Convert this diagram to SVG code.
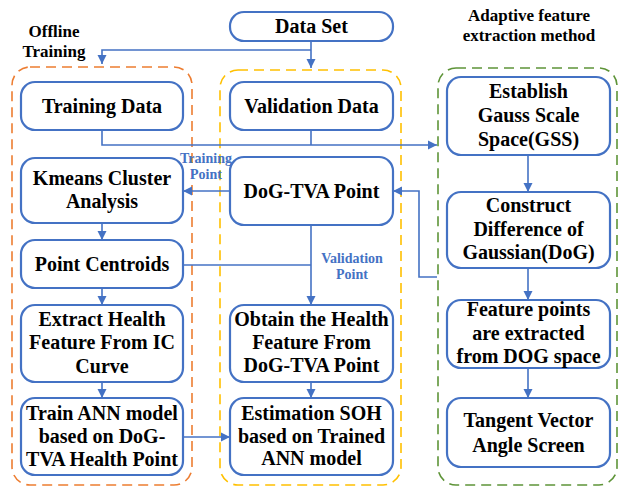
<svg xmlns="http://www.w3.org/2000/svg" width="618" height="487" viewBox="0 0 618 487">
<defs>
<style>
.box{fill:#fff;stroke:#4472C4;stroke-width:2.2}
.grp{fill:none;stroke-width:1.6;stroke-dasharray:10 6}
.t{font-family:"Liberation Serif","Times New Roman",serif;font-weight:bold;font-size:20px;fill:#000;text-anchor:middle}
.h{font-family:"Liberation Serif","Times New Roman",serif;font-weight:bold;font-size:17px;fill:#000;text-anchor:middle}
.l{font-family:"Liberation Serif","Times New Roman",serif;font-weight:bold;font-size:14px;fill:#4472C4;text-anchor:middle}
.c{fill:none;stroke:#4472C4;stroke-width:1.6}
</style>
<marker id="arr" markerUnits="userSpaceOnUse" markerWidth="10" markerHeight="10" refX="9" refY="5" orient="auto">
<path d="M0,0.5 L9,5 L0,9.5 z" fill="#4472C4"/>
</marker>
</defs>
<rect width="618" height="487" fill="#fff"/>

<g id="groups">
<rect class="grp" x="12" y="67" width="180" height="418" rx="18" stroke="#ED7D31"/>
<rect class="grp" x="220" y="70" width="181" height="415" rx="18" stroke="#FFC000"/>
<rect class="grp" x="438" y="68" width="179" height="417" rx="18" stroke="#5E9438"/>
</g>

<g id="titles">
<text class="h" x="54" y="37">Offline</text>
<text class="h" x="54" y="57">Training</text>
<text class="h" x="529" y="21">Adaptive feature</text>
<text class="h" x="529" y="41">extraction method</text>
</g>

<g id="connectors">
<path class="c" d="M311 41 V68" marker-end="url(#arr)"/>
<path class="c" d="M311 50 H102 V64" marker-end="url(#arr)"/>
<path class="c" d="M311 130 V145"/>
<path class="c" d="M102 130 V145 H437" marker-end="url(#arr)"/>
<path class="c" d="M528 155 V192" marker-end="url(#arr)"/>
<path class="c" d="M528 268 V300" marker-end="url(#arr)"/>
<path class="c" d="M528 368 V398" marker-end="url(#arr)"/>
<path class="c" d="M437 277 H419 V191 H393" marker-end="url(#arr)"/>
<path class="c" d="M230 191 H183" marker-end="url(#arr)"/>
<path class="c" d="M102 223 V240" marker-end="url(#arr)"/>
<path class="c" d="M102 288 V305" marker-end="url(#arr)"/>
<path class="c" d="M102 382 V398" marker-end="url(#arr)"/>
<path class="c" d="M183 265 H311"/>
<path class="c" d="M311 225 V305" marker-end="url(#arr)"/>
<path class="c" d="M311 382 V398" marker-end="url(#arr)"/>
<path class="c" d="M183 437 H230" marker-end="url(#arr)"/>
<text class="l" x="206" y="163">Training</text>
<text class="l" x="206" y="179">Point</text>
<text class="l" x="352" y="263">Validation</text>
<text class="l" x="352" y="279">Point</text>
</g>

<g id="data-set"><rect class="box" x="230" y="12" width="163" height="29" rx="14"/><text class="t" x="311.5" y="33">Data Set</text></g>
<g id="training-data"><rect class="box" x="21" y="82" width="162" height="48" rx="14"/><text class="t" x="102" y="113">Training Data</text></g>
<g id="validation-data"><rect class="box" x="230" y="82" width="163" height="48" rx="14"/><text class="t" x="311.5" y="113">Validation Data</text></g>
<g id="kmeans"><rect class="box" x="21" y="158" width="162" height="65" rx="14"/><text class="t" x="102" y="185">Kmeans Cluster</text><text class="t" x="102" y="208">Analysis</text></g>
<g id="point-centroids"><rect class="box" x="21" y="240" width="162" height="48" rx="14"/><text class="t" x="102" y="271">Point Centroids</text></g>
<g id="extract"><rect class="box" x="21" y="305" width="162" height="77" rx="14"/><text class="t" x="102" y="326">Extract Health</text><text class="t" x="102" y="349">Feature From IC</text><text class="t" x="102" y="373">Curve</text></g>
<g id="train-ann"><rect class="box" x="21" y="398" width="162" height="77" rx="14"/><text class="t" x="102" y="420">Train ANN model</text><text class="t" x="102" y="443">based on DoG-</text><text class="t" x="102" y="466">TVA Health Point</text></g>
<g id="dog-tva"><rect class="box" x="230" y="157" width="163" height="68" rx="14"/><text class="t" x="311.5" y="198">DoG-TVA Point</text></g>
<g id="obtain"><rect class="box" x="230" y="305" width="163" height="77" rx="14"/><text class="t" x="311.5" y="326">Obtain the Health</text><text class="t" x="311.5" y="349">Feature From</text><text class="t" x="311.5" y="372">DoG-TVA Point</text></g>
<g id="estimation"><rect class="box" x="230" y="398" width="163" height="77" rx="14"/><text class="t" x="311.5" y="420">Estimation SOH</text><text class="t" x="311.5" y="443">based on Trained</text><text class="t" x="311.5" y="465">ANN model</text></g>
<g id="gss"><rect class="box" x="447" y="77" width="163" height="78" rx="14"/><text class="t" x="528.5" y="98">Establish</text><text class="t" x="528.5" y="122">Gauss Scale</text><text class="t" x="528.5" y="146">Space(GSS)</text></g>
<g id="construct"><rect class="box" x="447" y="192" width="163" height="76" rx="14"/><text class="t" x="528.5" y="212">Construct</text><text class="t" x="528.5" y="236">Difference of</text><text class="t" x="528.5" y="259">Gaussian(DoG)</text></g>
<g id="feature-points"><rect class="box" x="447" y="300" width="163" height="68" rx="14"/><text class="t" x="528.5" y="316">Feature points</text><text class="t" x="528.5" y="340">are extracted</text><text class="t" x="528.5" y="363">from DOG space</text></g>
<g id="tangent"><rect class="box" x="447" y="398" width="163" height="69" rx="14"/><text class="t" x="528.5" y="427">Tangent Vector</text><text class="t" x="528.5" y="452">Angle Screen</text></g>
</svg>
